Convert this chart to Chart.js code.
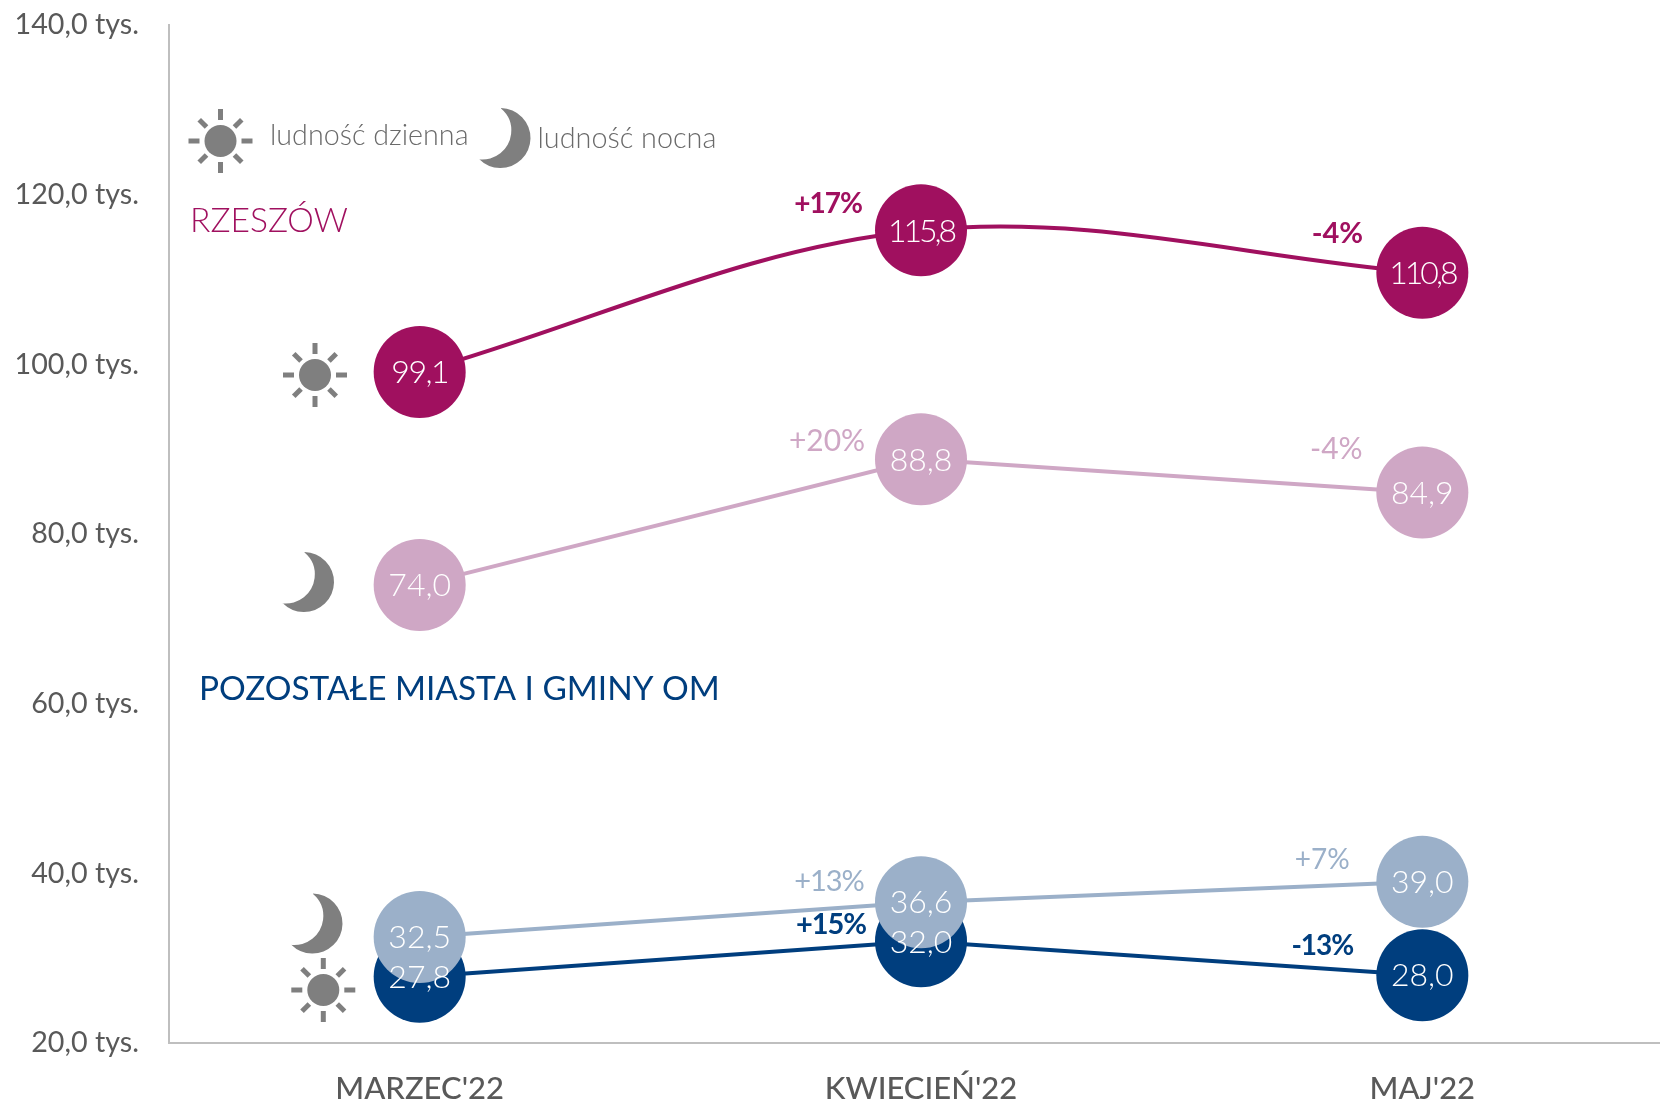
<!DOCTYPE html>
<html lang="pl"><head><meta charset="utf-8">
<style>html,body{margin:0;padding:0;background:#fff;overflow:hidden;width:1660px;height:1104px}canvas{display:block}</style>
<script src="https://cdn.jsdelivr.net/npm/chart.js@4"></script></head>
<body><canvas id="c" width="1673" height="1104"></canvas>
<script>
const categories = ["MARZEC'22", "KWIECIEŃ'22", "MAJ'22"];
const rzeszowDzien = [99.1, 115.8, 110.8];
const rzeszowNoc = [74.0, 88.8, 84.9];
const omNoc = [32.5, 36.6, 39.0];
const omDzien = [27.8, 32.0, 28.0];
const zmianaRzeszowDzien = ["", "+17%", "-4%"];
const zmianaRzeszowNoc = ["", "+20%", "-4%"];
const zmianaOmNoc = ["", "+13%", "+7%"];
const zmianaOmDzien = ["", "+15%", "-13%"];
const MAROON = "#A0105F", PINK = "#CFA7C5", LIGHT = "#9BB0C9", NAVY = "#003E7E", GREY = "#7F7F7F", TXT = "#595959";

const fmt = v => v.toFixed(1).replace(".", ",");
function series(label, data, color, tension, changes, offs, weight) {
  return { label, data, borderColor: color, backgroundColor: color, pointBackgroundColor: color, pointBorderColor: color,
    borderWidth: 4, pointBorderWidth: 0, pointHoverBorderWidth: 0, pointRadius: 46, pointHoverRadius: 46, tension, changes, offs, weight };
}
function sun(ctx, x, y) {
  ctx.save(); ctx.translate(x, y); ctx.fillStyle = GREY; ctx.strokeStyle = GREY; ctx.lineWidth = 5;
  ctx.beginPath(); ctx.arc(0, 0, 16, 0, Math.PI * 2); ctx.fill();
  for (let i = 0; i < 8; i++) {
    const a = i * Math.PI / 4, d = i % 2 ? 0.94 : 1;
    ctx.beginPath(); ctx.moveTo(Math.cos(a) * 21 * d, Math.sin(a) * 21 * d); ctx.lineTo(Math.cos(a) * 32 * d, Math.sin(a) * 32 * d); ctx.stroke();
  }
  ctx.restore();
}
function moon(ctx, x, y) {
  ctx.save(); ctx.translate(x, y); ctx.fillStyle = GREY;
  const ix = -18.2, iy = -7.4, t1 = [0.5, -29.5], t2 = [-21.5, 21.5];
  ctx.beginPath();
  ctx.arc(0, 0, 30, Math.atan2(t1[1], t1[0]), Math.atan2(t2[1], t2[0]), false);
  ctx.arc(ix, iy, 29, Math.atan2(t2[1] - iy, t2[0] - ix), Math.atan2(t1[1] - iy, t1[0] - ix), true);
  ctx.closePath(); ctx.fill(); ctx.restore();
}
function text(ctx, s, x, y, font, color, align, perOne) {
  ctx.font = font; ctx.fillStyle = color; ctx.textAlign = align || "left"; ctx.textBaseline = "middle";
  ctx.letterSpacing = (-(perOne || 1) * (s.split("1").length - 1)) + "px";
  ctx.fillText(s, x, y);
  ctx.letterSpacing = "0px";
}
const overlay = {
  id: "overlay",
  afterDatasetsDraw(chart) {
    const ctx = chart.ctx, xs = chart.scales.x, ys = chart.scales.y;
    ctx.save();
    chart.data.datasets.forEach(ds => {
      ds.data.forEach((v, i) => {
        const px = xs.getPixelForValue(i), py = ys.getPixelForValue(v);
        text(ctx, fmt(v), px, py + 1, "300 32px Lato", "#fff", "center", 1.5);
        if (ds.changes[i]) text(ctx, ds.changes[i], px + ds.offs[i][0], py + ds.offs[i][1], ds.weight + " " + ds.offs[i][2] + "px Lato", ds.borderColor, "center");
      });
    });
    sun(ctx, 220.5, 141); moon(ctx, 500.5, 138);
    sun(ctx, 315, 375); moon(ctx, 304, 582);
    sun(ctx, 323.3, 990); moon(ctx, 312.5, 923.5);
    text(ctx, "ludność dzienna", 270, 136, "300 28.7px Lato", "#6a6a6a");
    text(ctx, "ludność nocna", 537.5, 139, "300 28.8px Lato", "#6a6a6a");
    text(ctx, "RZESZÓW", 190, 221, "300 33.6px Lato", MAROON);
    text(ctx, "POZOSTAŁE MIASTA I GMINY OM", 199, 689, "400 33.4px Lato", NAVY);
    ctx.restore();
  }
};
new Chart(document.getElementById("c"), {
  type: "line",
  data: { labels: categories, datasets: [
    series("Rzeszów – ludność dzienna", rzeszowDzien, MAROON, 0.35, zmianaRzeszowDzien, [[0,0,0],[-93,-26,28],[-85,-39,29]], 700),
    series("Rzeszów – ludność nocna", rzeszowNoc, PINK, 0, zmianaRzeszowNoc, [[0,0,0],[-94,-18,30],[-86,-43,30]], 400),
    series("Pozostałe – ludność nocna", omNoc, LIGHT, 0, zmianaOmNoc, [[0,0,0],[-92,-21,29],[-100,-22,28]], 400),
    series("Pozostałe – ludność dzienna", omDzien, NAVY, 0, zmianaOmDzien, [[0,0,0],[-90,-17,29],[-100,-29,28]], 700)
  ]},
  options: {
    responsive: false, animation: false, events: [],
    layout: { autoPadding: false, padding: { top: 25, right: 0, left: 0, bottom: 0 } },
    plugins: { legend: { display: false }, tooltip: { enabled: false } },
    scales: {
      x: { offset: true, grid: { display: false, drawTicks: false }, border: { color: "#BFBFBF", width: 2 },
        ticks: { color: TXT, font: { family: "Lato", size: 31, weight: 500 }, padding: 27, maxRotation: 0 },
        afterFit(s) { s.height = 61; s.paddingLeft = 0; s.paddingRight = 0; } },
      y: { min: 20, max: 140, grid: { display: false, drawTicks: false }, border: { color: "#BFBFBF", width: 2 },
        ticks: { stepSize: 20, color: TXT, font: { family: "Lato", size: 28.7 }, padding: 30, callback: v => fmt(v) + " tys." },
        afterFit(s) { s.width = 169; s.paddingTop = 0; s.paddingBottom = 0; } }
    }
  },
  plugins: [overlay]
});
</script></body></html>
